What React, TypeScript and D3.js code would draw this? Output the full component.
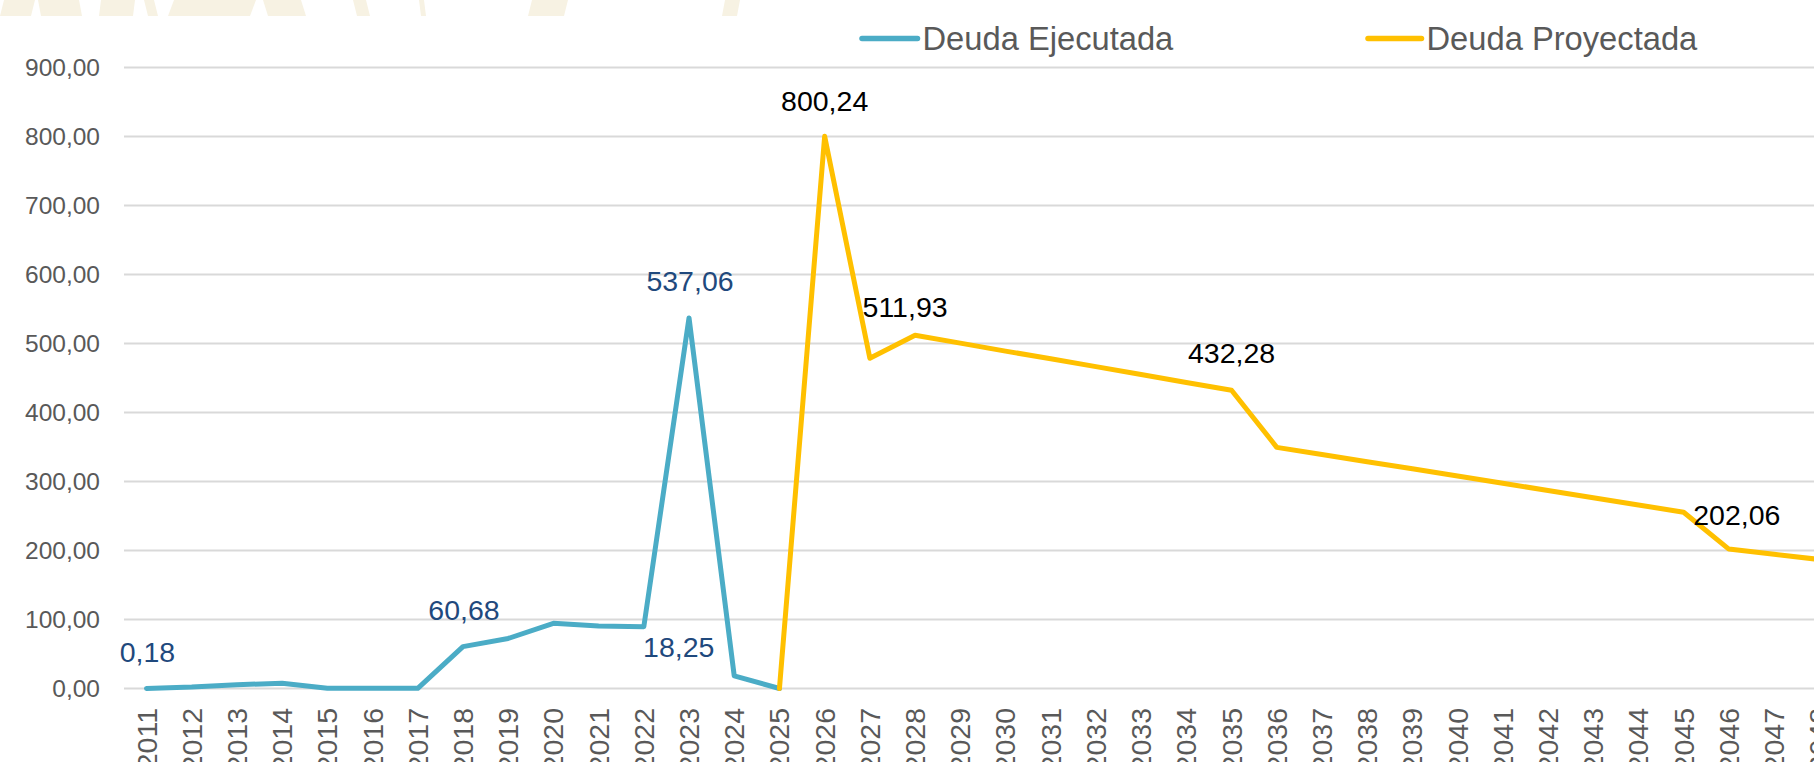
import React from "react";
import * as d3 from "d3";

// ---- data ----
const years: string[] = [
  "2011", "2012", "2013", "2014", "2015", "2016", "2017", "2018", "2019", "2020",
  "2021", "2022", "2023", "2024", "2025", "2026", "2027", "2028", "2029", "2030",
  "2031", "2032", "2033", "2034", "2035", "2036", "2037", "2038", "2039", "2040",
  "2041", "2042", "2043", "2044", "2045", "2046", "2047", "2048",
];

const ejecutadaYears: string[] = [
  "2011", "2012", "2013", "2014", "2015", "2016", "2017", "2018", "2019", "2020",
  "2021", "2022", "2023", "2024", "2025",
];
const ejecutadaValues: number[] = [
  0.18, 2, 5.5, 7.5, 0.3, 0.3, 0.3, 60.68, 72.5, 94.5, 90.5, 89.5, 537.06, 18.25, 0,
];

const proyectadaYears: string[] = [
  "2025", "2026", "2027", "2028", "2029", "2030", "2031", "2032", "2033", "2034",
  "2035", "2036", "2037", "2038", "2039", "2040", "2041", "2042", "2043", "2044",
  "2045", "2046", "2047", "2048",
];
const proyectadaValues: number[] = [
  0, 800.24, 478.5, 511.93, 500.5, 489, 478, 466.5, 455, 443.5,
  432.28, 349.5, 339, 328.5, 318.5, 308, 297.5, 287, 276.5, 266,
  255.5, 202.06, 194.5, 187,
];

const yTicks: number[] = [0, 100, 200, 300, 400, 500, 600, 700, 800, 900];

const seriesNames: string[] = ["Deuda Ejecutada", "Deuda Proyectada"];

// labelled points: [series index, year, dx, dy(baseline offset)]
const labelYearsEjecutada: string[] = ["2011", "2018", "2023", "2024"];
const labelYearsProyectada: string[] = ["2026", "2028", "2035", "2046"];

// ---- styles ----
const BLUE = "#4BACC6";
const YELLOW = "#FFC000";
const LABEL_BLUE = "#1F497D";
const GRID = "#D9D9D9";
const TEXT_GRAY = "#595959";
const FONT = "'Liberation Sans', Arial, sans-serif";

const W = 1814;
const H = 762;

const labelOffsets: Record<string, [number, number]> = {
  "2011": [1, -26],
  "2018": [1, -27],
  "2023": [1, -26.5],
  "2024": [-55.5, -19],
  "2026": [0, -25.5],
  "2028": [-10, -18],
  "2035": [0, -27],
  "2046": [8, -24],
};

const locale = d3.formatLocale({
  decimal: ",",
  thousands: ".",
  grouping: [3],
  currency: ["", ""],
});
const fmt = locale.format(".2f");

const bgShapes: [number, number, number][] = [
  [0, 31, 4],
  [41, 82, -3],
  [99, 133, 2],
  [148, 158, -4],
  [168, 250, 6],
  [268, 306, -5],
  [357, 370, -4],
  [421, 426, -2],
  [528, 564, 4],
  [722, 737, 3],
];

export default function App() {
  const x = d3
    .scalePoint<string>()
    .domain(years)
    .range([146.5, 146.5 + 45.21 * (years.length - 1)]);
  const y = d3.scaleLinear().domain([0, 900]).range([688.5, 67.5]);
  const plotLeft = 124;

  const line = d3
    .line<[string, number]>()
    .x((d) => x(d[0]) as number)
    .y((d) => y(d[1]));

  const ejecutada: [string, number][] = ejecutadaYears.map((yr, i) => [yr, ejecutadaValues[i]]);
  const proyectada: [string, number][] = proyectadaYears.map((yr, i) => [yr, proyectadaValues[i]]);

  const labels = [
    ...labelYearsEjecutada.map((yr) => ({
      yr,
      v: ejecutadaValues[ejecutadaYears.indexOf(yr)],
      color: LABEL_BLUE,
    })),
    ...labelYearsProyectada.map((yr) => ({
      yr,
      v: proyectadaValues[proyectadaYears.indexOf(yr)],
      color: "#000000",
    })),
  ];

  const legend = [
    { name: seriesNames[0], color: BLUE, x0: 862, x1: 917.5, tx: 922.5 },
    { name: seriesNames[1], color: YELLOW, x0: 1368, x1: 1421.5, tx: 1426.5 },
  ];

  return (
    <svg
      width={W}
      height={H}
      style={{ position: "absolute", left: 0, top: 0, background: "#fff" }}
    >
      <rect x={0} y={0} width={W} height={H} fill="#ffffff" />
      {/* faint decorative strip at the top */}
      <g fill="#F7F2E3">
        {bgShapes.map(([a, b, s], i) => (
          <polygon key={i} points={`${a + s},0 ${b + s},0 ${b},16 ${a},16`} />
        ))}
      </g>

      {/* gridlines */}
      <g>
        {yTicks.map((t) => (
          <line
            key={t}
            x1={plotLeft}
            x2={W}
            y1={y(t)}
            y2={y(t)}
            stroke={GRID}
            strokeWidth={2}
          />
        ))}
      </g>

      {/* y-axis labels */}
      <g fontFamily={FONT} fontSize={24.5} fill={TEXT_GRAY} textAnchor="end">
        {yTicks.map((t) => (
          <text key={t} x={100} y={y(t)} dy="0.35em">
            {fmt(t)}
          </text>
        ))}
      </g>

      {/* x-axis labels */}
      <g fontFamily={FONT} fontSize={28.5} fill={TEXT_GRAY} textAnchor="end">
        {years.map((yr) => {
          const cx = x(yr) as number;
          return (
            <text
              key={yr}
              transform={`translate(${cx + 10},708) rotate(-90)`}
              x={0}
              y={0}
            >
              {yr}
            </text>
          );
        })}
      </g>

      {/* lines */}
      <path
        d={line(ejecutada) || ""}
        fill="none"
        stroke={BLUE}
        strokeWidth={5}
        strokeLinejoin="round"
        strokeLinecap="round"
      />
      <path
        d={line(proyectada) || ""}
        fill="none"
        stroke={YELLOW}
        strokeWidth={5}
        strokeLinejoin="round"
        strokeLinecap="round"
      />

      {/* data labels */}
      <g fontFamily={FONT} fontSize={28.5} textAnchor="middle">
        {labels.map((l) => {
          const [dx, dy] = labelOffsets[l.yr];
          return (
            <text
              key={l.yr}
              x={(x(l.yr) as number) + dx}
              y={y(l.v) + dy}
              fill={l.color}
            >
              {fmt(l.v)}
            </text>
          );
        })}
      </g>

      {/* legend */}
      <g fontFamily={FONT} fontSize={32.7} fill={TEXT_GRAY}>
        {legend.map((it) => (
          <g key={it.name}>
            <line
              x1={it.x0}
              x2={it.x1}
              y1={38.5}
              y2={38.5}
              stroke={it.color}
              strokeWidth={5.5}
              strokeLinecap="round"
            />
            <text x={it.tx} y={50}>
              {it.name}
            </text>
          </g>
        ))}
      </g>
    </svg>
  );
}
